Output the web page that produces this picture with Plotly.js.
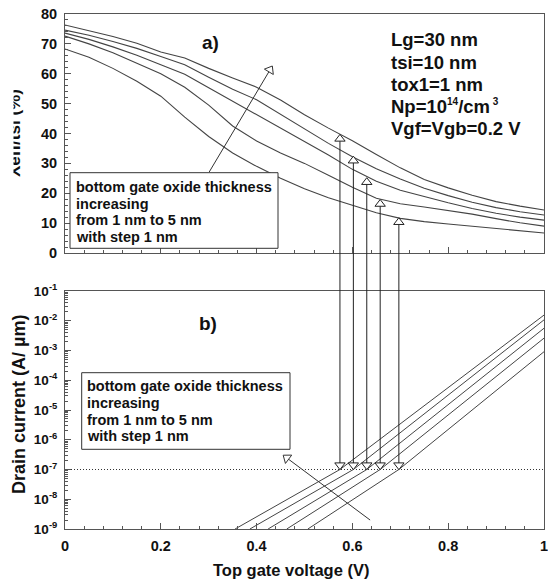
<!DOCTYPE html>
<html>
<head>
<meta charset="utf-8">
<script src="https://cdn.plot.ly/plotly-3.0.1.min.js"></script>
<style>html,body{margin:0;padding:0;background:#fff;}#chart{width:548px;height:583px;}</style>
</head>
<body>
<div id="chart"></div>
<script>
// ---------- data ----------
// panel a): Xeff/tsi (%) versus top gate voltage, tox2 = 1..5 nm
const vgTop = [0,0.05,0.1,0.15,0.2,0.25,0.3,0.35,0.4,0.45,0.5,0.55,0.6,0.65,0.7,0.75,0.8,0.85,0.9,0.95,1.0];
const xeff1 = [76.3,74.5,72.5,70.2,67.3,65.3,61.8,58.6,55.5,51.2,46.3,41.8,37.6,33.0,28.5,24.6,21.8,19.3,17.2,15.7,14.4];
const xeff2 = [74.6,72.9,70.8,68.5,65.8,63.0,58.8,54.8,51.3,46.5,41.5,36.7,32.2,28.2,24.8,21.7,19.2,17.0,15.2,13.8,12.7];
const xeff3 = [73.6,71.5,69.0,66.2,63.0,59.8,55.3,50.8,46.3,41.8,37.3,32.8,28.0,24.0,21.0,18.8,16.8,14.9,13.3,12.0,11.0];
const xeff4 = [72.6,70.0,67.0,63.5,60.0,55.5,49.5,42.5,37.5,33.5,30.0,26.0,22.0,18.3,16.5,15.4,14.3,13.0,11.5,10.1,9.0];
const xeff5 = [68.3,65.5,61.8,57.5,52.5,45.5,39.0,33.5,29.0,25.0,21.5,18.5,16.0,13.5,11.6,10.5,9.7,9.0,8.2,7.4,6.7];

// panel b): drain current (A/um) versus top gate voltage
const vgId1 = [0.355,0.574,1.0]; const id1 = [1e-9,1e-7,1.55e-2];
const vgId2 = [0.386,0.602,1.0]; const id2 = [1e-9,1e-7,1.07e-2];
const vgId3 = [0.424,0.630,1.0]; const id3 = [1e-9,1e-7,5.6e-3];
const vgId4 = [0.463,0.658,1.0]; const id4 = [1e-9,1e-7,2.6e-3];
const vgId5 = [0.507,0.697,1.0]; const id5 = [1e-9,1e-7,9.1e-4];

// threshold markers (Id = 1e-7) linking both panels
const vth = [0.574,0.602,0.630,0.658,0.697];
const xeffAtVth = [38.2,30.9,23.7,16.4,10.3];
const idRef = 1e-7;
const idHead = 1.4e-7;
const idTop = 1e-1;

// "increasing" arrows
const arrowA_x = [0.301,0.428]; const arrowA_y = [27.1,61.3];
const arrowB_x = [0.637,0.463]; const arrowB_y = [2.0e-9,2.45e-7];

// tick labels
const xTickVals = [0,0.2,0.4,0.6,0.8,1];
const xTickText = ['0','0.2','0.4','0.6','0.8','1'];
const yLogVals = [1e-9,1e-8,1e-7,1e-6,1e-5,1e-4,1e-3,1e-2,1e-1];
const yLogText = ['-9','-8','-7','-6','-5','-4','-3','-2','-1'].map(e => '10<sup>' + e + '</sup>');
const minorDigits = [2,3,4,5,6,7,8,9];

// labels
const boxLines = ['bottom gate oxide thickness','increasing','from 1 nm to 5 nm','with step 1 nm'];
const paramLines = ['Lg=30 nm','tsi=10 nm','tox1=1 nm',
  'Np=10<sup><span style="font-size:10px">14</span></sup>/cm<sup><span style="font-size:10px"> 3</span></sup>',
  'Vgf=Vgb=0.2 V'];

// ---------- layout helpers ----------
const FONT = 'Liberation Sans, Arial, sans-serif';
const L = 65, R = 544, T = 14, B = 529;
const W = R - L, H = B - T;
const px = x => (x - L) / W;
const py = y => (B - y) / H;
const topDom = [py(253), 1];
const botDom = [0, py(291)];
const curveColor = '#444';
const axColor = '#555';

const minorLogVals = [];
yLogVals.slice(0, -1).forEach(d => minorDigits.forEach(m => minorLogVals.push(d * m)));

const traces = [];
[xeff1,xeff2,xeff3,xeff4,xeff5].forEach(ys => traces.push({
  x: vgTop, y: ys, xaxis: 'x', yaxis: 'y', type: 'scatter', mode: 'lines',
  line: {color: curveColor, width: 1.1}, hoverinfo: 'skip'
}));
[[vgId1,id1],[vgId2,id2],[vgId3,id3],[vgId4,id4],[vgId5,id5]].forEach(([xs,ys]) => traces.push({
  x: xs, y: ys, xaxis: 'x2', yaxis: 'y2', type: 'scatter', mode: 'lines',
  line: {color: curveColor, width: 1}, hoverinfo: 'skip'
}));
// dotted reference line
traces.push({x: [0,1], y: [idRef,idRef], xaxis: 'x2', yaxis: 'y2', mode: 'lines',
  line: {color: '#333', width: 1, dash: '1px,2px'}, hoverinfo: 'skip'});
// vertical connectors
vth.forEach((v,i) => {
  traces.push({x: [v,v], y: [0, xeffAtVth[i]], xaxis: 'x', yaxis: 'y', mode: 'lines',
    line: {color: '#222', width: 1}, hoverinfo: 'skip'});
  traces.push({x: [v,v], y: [idTop, idHead], xaxis: 'x2', yaxis: 'y2', mode: 'lines',
    line: {color: '#222', width: 1}, hoverinfo: 'skip'});
});
// arrow heads
traces.push({x: vth, y: xeffAtVth, xaxis: 'x', yaxis: 'y', mode: 'markers',
  marker: {symbol: 'triangle-up', size: 9, color: '#fff', line: {color: '#222', width: 1}}, hoverinfo: 'skip'});
traces.push({x: vth, y: vth.map(() => idHead), xaxis: 'x2', yaxis: 'y2', mode: 'markers',
  marker: {symbol: 'triangle-down', size: 9, color: '#fff', line: {color: '#222', width: 1}}, hoverinfo: 'skip'});
// increasing arrows
traces.push({x: arrowA_x, y: arrowA_y, xaxis: 'x', yaxis: 'y', mode: 'lines',
  line: {color: '#333', width: 1}, hoverinfo: 'skip'});
traces.push({x: [arrowA_x[1]], y: [arrowA_y[1]], xaxis: 'x', yaxis: 'y', mode: 'markers',
  marker: {symbol: 'triangle-up', size: 9, angle: 31, color: '#fff', line: {color: '#333', width: 1}}, hoverinfo: 'skip'});
traces.push({x: arrowB_x, y: arrowB_y, xaxis: 'x2', yaxis: 'y2', mode: 'lines',
  line: {color: '#333', width: 1}, hoverinfo: 'skip'});
traces.push({x: [arrowB_x[1]], y: [arrowB_y[1]], xaxis: 'x2', yaxis: 'y2', mode: 'markers',
  marker: {symbol: 'triangle-up', size: 9, angle: -53, color: '#fff', line: {color: '#333', width: 1}}, hoverinfo: 'skip'});

const tf = (s) => ({family: FONT, size: s, color: '#111', weight: 'bold'});
const baseX = {
  range: [0,1], showgrid: false, zeroline: false, showline: true, mirror: true,
  linecolor: axColor, linewidth: 1, ticks: 'inside', ticklen: 6, tickcolor: axColor,
  minor: {ticks: 'inside', ticklen: 3, dtick: 0.04, tick0: 0, tickcolor: axColor, showgrid: false}
};

const annotations = [];
annotations.push({xref: 'paper', yref: 'paper', x: px(210), y: py(42), text: 'a)', showarrow: false,
  font: tf(19), xanchor: 'center', yanchor: 'middle'});
annotations.push({xref: 'paper', yref: 'paper', x: px(208), y: py(323), text: 'b)', showarrow: false,
  font: tf(19), xanchor: 'center', yanchor: 'middle'});
const paramY = [40,62,84,106,128];
paramLines.forEach((t,i) => annotations.push({xref: 'paper', yref: 'paper', x: px(389), y: py(paramY[i]),
  text: t, showarrow: false, font: tf(18.5), xanchor: 'left', yanchor: 'middle'}));
const boxAY = [187,203.5,220,236.5];
const boxBY = [386,403,420,436];
boxLines.forEach((t,i) => {
  annotations.push({xref: 'paper', yref: 'paper', x: px(74), y: py(boxAY[i]), text: t, showarrow: false,
    font: tf(14.5), xanchor: 'left', yanchor: 'middle'});
  annotations.push({xref: 'paper', yref: 'paper', x: px(85), y: py(boxBY[i]), text: t, showarrow: false,
    font: tf(14.5), xanchor: 'left', yanchor: 'middle'});
});
// axis titles
annotations.push({xref: 'paper', yref: 'paper', x: px(291), y: py(570), text: 'Top gate voltage (V)',
  showarrow: false, font: tf(16.5), xanchor: 'center', yanchor: 'middle'});
annotations.push({xref: 'paper', yref: 'paper', x: px(19), y: py(405), text: 'Drain current (A/ µm)',
  showarrow: false, font: tf(18), textangle: -90, xanchor: 'center', yanchor: 'middle'});
annotations.push({xref: 'paper', yref: 'paper', x: px(14), y: py(133), text: 'Xeff/tsi (%)',
  showarrow: false, font: tf(17), textangle: -90, xanchor: 'center', yanchor: 'middle'});
// the reference's left edge crops the top title
annotations.push({xref: 'paper', yref: 'paper', x: px(0), y: py(133), text: ' ', width: 12, height: 120,
  bgcolor: '#fff', borderpad: 0, showarrow: false, xanchor: 'left', yanchor: 'middle', font: {size: 10}});

const shapes = [
  {type: 'rect', xref: 'paper', yref: 'paper', x0: px(70), x1: px(278), y0: py(248.3), y1: py(172.7),
    line: {color: '#333', width: 1}, fillcolor: '#fff', layer: 'above'},
  {type: 'rect', xref: 'paper', yref: 'paper', x0: px(81.7), x1: px(290), y0: py(449.3), y1: py(372.7),
    line: {color: '#333', width: 1}, fillcolor: '#fff', layer: 'above'}
];
vth.forEach(v => shapes.push({type: 'line', xref: 'x', yref: 'paper', x0: v, x1: v,
  y0: botDom[1], y1: topDom[0], line: {color: '#222', width: 1}}));

const layout = {
  width: 548, height: 583,
  margin: {l: L, r: 548 - R, t: T, b: 583 - B, pad: 0},
  paper_bgcolor: '#fff', plot_bgcolor: '#fff',
  showlegend: false,
  xaxis: Object.assign({}, baseX, {domain: [0,1], anchor: 'y', showticklabels: false, dtick: 0.2, tick0: 0}),
  yaxis: {domain: topDom, anchor: 'x', range: [0,80], dtick: 10, tick0: 0, showgrid: false, zeroline: false,
    showline: true, mirror: true, linecolor: axColor, ticks: 'inside', ticklen: 6, tickcolor: axColor,
    minor: {ticks: 'inside', ticklen: 3, dtick: 2, tick0: 0, tickcolor: axColor, showgrid: false},
    tickfont: tf(14.5), ticklabelstandoff: 4},
  xaxis2: Object.assign({}, baseX, {domain: [0,1], anchor: 'y2', tickmode: 'array', tickvals: xTickVals,
    ticktext: xTickText, tickfont: tf(14.5), ticklabelstandoff: 4, ticklabeloverflow: 'allow'}),
  yaxis2: {domain: botDom, anchor: 'x2', type: 'log', range: [-9,-1], tickmode: 'array', tickvals: yLogVals,
    ticktext: yLogText, showgrid: false, zeroline: false, showline: true, mirror: true, linecolor: axColor,
    ticks: 'inside', ticklen: 6, tickcolor: axColor,
    minor: {ticks: 'inside', ticklen: 3, tickmode: 'array', tickvals: minorLogVals, tickcolor: axColor, showgrid: false},
    tickfont: tf(13.5), ticklabelstandoff: 4},
  annotations: annotations,
  shapes: shapes
};

Plotly.newPlot('chart', traces, layout, {staticPlot: true, displayModeBar: false});
</script>
</body>
</html>
